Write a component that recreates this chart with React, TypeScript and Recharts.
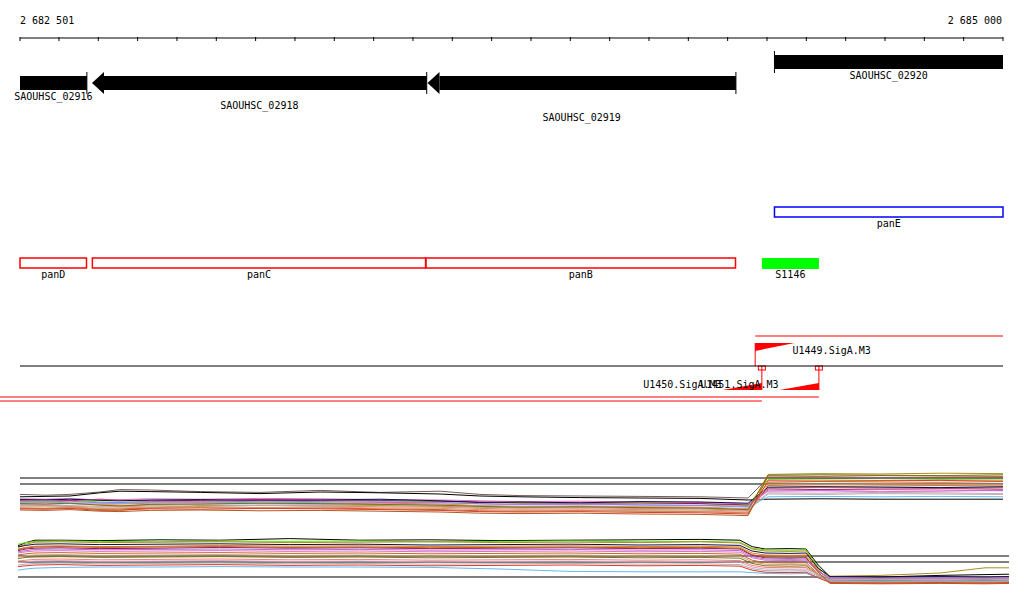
import React from 'react';
import { ComposedChart, XAxis, YAxis, Line, ReferenceArea, ReferenceLine } from 'recharts';

// genomic window shown
const VIEW_START = 2682501;
const VIEW_END = 2685000;

const RULER_TICKS = [
  2682501, 2682600, 2682700, 2682800, 2682900, 2683000, 2683100, 2683200, 2683300,
  2683400, 2683500, 2683600, 2683700, 2683800, 2683900, 2684000, 2684100, 2684200,
  2684300, 2684400, 2684500, 2684600, 2684700, 2684800, 2684900, 2685000,
];

// annotated genes
const GENE_NAMES = ['SAOUHSC_02916', 'SAOUHSC_02918', 'SAOUHSC_02919', 'SAOUHSC_02920'];
const GENE_START = [2682380, 2682684, 2683537, 2684419];
const GENE_END = [2682671, 2683535, 2684321, 2685290];
const GENE_STRAND = [-1, -1, -1, 1];

// operon members / transcribed segments
const FEATURE_NAMES = ['panD', 'panC', 'panB', 'S1146', 'panE'];
const FEATURE_START = [2682380, 2682685, 2683533, 2684387, 2684419];
const FEATURE_END = [2682670, 2683532, 2684320, 2684532, 2685290];

// promoters
const PROMOTER_NAMES = ['U1449.SigA.M3', 'U1450.SigA.M3', 'U1451.SigA.M3'];
const PROMOTER_TSS = [2684370, 2684387, 2684532];
const PROMOTER_STRAND = [1, -1, -1];

// expression profiles, top panel
const P1_POS = [
  2682501, 2682565, 2682628, 2682704, 2682755, 2682832, 2682959, 2683111, 2683264, 2683416, 2683569,
  2683670, 2683772, 2683925, 2684077, 2684230, 2684352, 2684403, 2684535, 2684687, 2684840, 2685000,
];
const P1_TAUPE = [6.4, 6.2, 6.4, 7.0, 7.6, 7.5, 7.1, 6.9, 7.4, 6.9, 7.2, 6.4, 6.1, 6.0, 5.9, 5.8, 5.5, 10.6, 10.4, 10.5, 10.6, 10.5];
const P1_BLACK = [5.8, 5.9, 6.0, 6.8, 7.2, 7.1, 6.9, 6.6, 7.0, 6.8, 6.5, 6.0, 5.8, 5.6, 5.5, 5.4, 5.0, 5.2, 5.3, 5.2, 5.2, 5.2];
const P1_LIME = [4.8, 4.7, 4.9, 4.5, 4.4, 4.6, 4.7, 4.8, 4.9, 4.7, 4.6, 4.4, 4.2, 4.3, 4.2, 4.1, 3.6, 10.1, 10.0, 9.9, 10.1, 10.0];
const P1_OLIVE = [3.8, 3.7, 3.4, 2.6, 2.4, 3.0, 3.6, 3.7, 3.5, 3.6, 3.4, 3.2, 3.0, 3.1, 2.9, 2.8, 2.4, 11.4, 11.6, 11.5, 11.7, 11.6];
const P1_ORANGE = [4.2, 4.3, 4.1, 3.9, 4.0, 4.2, 4.3, 4.1, 4.0, 4.2, 4.0, 3.6, 3.4, 3.5, 3.3, 3.2, 2.8, 9.4, 9.6, 9.5, 9.4, 9.6];
const P1_RUST = [3.0, 2.9, 3.1, 2.7, 2.8, 3.0, 3.1, 2.9, 3.0, 2.8, 2.6, 2.3, 2.2, 2.4, 2.2, 2.1, 1.8, 8.6, 8.4, 8.5, 8.6, 8.5];
const P1_MAGENTA = [5.0, 5.1, 4.9, 5.2, 5.0, 4.8, 4.9, 5.1, 5.0, 4.9, 4.7, 4.5, 4.3, 4.2, 4.3, 4.1, 3.8, 7.8, 7.6, 7.7, 7.9, 7.7];
const P1_PINK = [5.3, 5.2, 5.4, 5.0, 5.1, 5.3, 5.2, 5.4, 5.3, 5.1, 5.0, 4.8, 4.6, 4.7, 4.5, 4.4, 4.0, 7.2, 7.3, 7.1, 7.2, 7.4];
const P1_MAUVE = [4.0, 3.9, 4.1, 3.8, 3.6, 3.9, 4.0, 4.1, 3.9, 4.0, 3.8, 3.5, 3.3, 3.4, 3.2, 3.1, 2.7, 6.8, 6.7, 6.9, 6.8, 6.6];
const P1_SALMON = [3.5, 3.6, 3.4, 3.2, 3.3, 3.5, 3.4, 3.6, 3.5, 3.3, 3.2, 2.9, 2.7, 2.8, 2.6, 2.5, 2.2, 8.0, 8.1, 7.9, 8.0, 8.1];
const P1_SKY = [4.4, 4.5, 4.3, 4.2, 4.1, 4.4, 4.5, 4.3, 4.4, 4.6, 4.4, 4.0, 3.8, 3.9, 3.7, 3.6, 3.2, 5.8, 5.9, 5.8, 5.9, 5.8];
const P1_NAVY = [5.1, 5.0, 5.2, 4.9, 4.8, 5.0, 5.1, 4.9, 5.0, 5.2, 4.8, 4.4, 4.5, 4.3, 4.6, 4.5, 4.2, 8.2, 8.3, 8.2, 8.1, 8.3];
const P1_GREY = [3.7, 3.8, 3.6, 3.4, 3.5, 3.7, 3.8, 3.6, 3.7, 3.9, 3.6, 3.3, 3.1, 3.2, 3.0, 2.9, 2.5, 6.5, 6.4, 6.6, 6.5, 6.4];
const P1_TAN = [3.2, 3.3, 3.1, 2.9, 3.0, 3.2, 3.3, 3.1, 3.2, 3.0, 2.9, 2.6, 2.4, 2.5, 2.3, 2.2, 1.9, 8.9, 8.8, 9.0, 8.9, 8.8];
const P1_VIOLET = [4.6, 4.5, 4.7, 4.3, 4.4, 4.6, 4.5, 4.7, 4.6, 4.4, 4.3, 4.1, 3.9, 4.0, 3.8, 3.7, 3.4, 7.5, 7.4, 7.6, 7.5, 7.3];
const P1_RED = [2.8, 2.7, 2.9, 2.4, 2.5, 2.8, 2.7, 2.9, 2.8, 2.6, 2.4, 2.1, 2.0, 2.1, 1.9, 1.8, 1.5, 9.8, 9.7, 9.8, 9.9, 9.7];
const P1_BROWN = [2.5, 2.4, 2.6, 2.2, 2.1, 2.4, 2.5, 2.3, 2.4, 2.2, 2.0, 1.7, 1.6, 1.7, 1.5, 1.4, 1.1, 11.0, 10.9, 11.1, 11.0, 10.9];
const P1_DARKOLIVE = [4.1, 4.0, 4.2, 3.7, 3.5, 3.9, 4.0, 4.2, 4.1, 3.9, 3.7, 3.4, 3.2, 3.3, 3.1, 3.0, 2.6, 11.2, 11.3, 11.2, 11.1, 11.3];
const P1_THRESHOLDS = [10.5, 9.0];

// expression profiles, bottom panel
const P2_POS = [
  2682496, 2682516, 2682539, 2682603, 2682704, 2682857, 2683009, 2683187, 2683365, 2683543, 2683721, 2683899,
  2684077, 2684230, 2684331, 2684362, 2684395, 2684458, 2684499, 2684530, 2684560, 2684687, 2684840, 2684954, 2685015,
];
const P2_BLACK = [10.8, 11.6, 12.2, 12.2, 12.1, 12.3, 12.2, 12.6, 12.2, 12.3, 12.1, 12.2, 12.3, 12.4, 12.2, 10.6, 10.0, 10.1, 10.0, 6.0, 3.1, 3.0, 3.4, 3.6, 3.7];
const P2_LIME = [11.2, 11.6, 11.9, 12.0, 11.9, 11.8, 12.0, 11.9, 12.0, 11.8, 11.9, 12.0, 11.8, 11.9, 11.7, 10.2, 9.8, 9.7, 9.8, 5.5, 2.6, 2.5, 2.4, 2.5, 2.6];
const P2_OLIVE = [10.5, 11.2, 11.7, 11.8, 11.6, 11.7, 11.8, 11.6, 11.7, 11.8, 11.6, 11.7, 11.6, 11.8, 11.5, 10.0, 9.5, 9.4, 9.5, 5.0, 3.2, 3.4, 4.0, 5.3, 5.3];
const P2_ORANGE = [10.0, 10.4, 10.7, 10.8, 10.6, 10.7, 10.9, 10.7, 10.8, 10.6, 10.7, 10.8, 10.6, 10.7, 10.5, 9.0, 8.5, 8.4, 8.5, 4.8, 2.2, 2.1, 2.0, 2.1, 2.2];
const P2_MAGENTA = [9.6, 10.0, 10.2, 10.3, 10.1, 10.2, 10.4, 10.2, 10.3, 10.1, 10.2, 10.3, 10.1, 10.2, 10.0, 8.4, 7.8, 7.7, 7.8, 4.5, 2.5, 2.6, 2.5, 2.4, 2.5];
const P2_PINK = [9.0, 9.3, 9.5, 9.6, 9.4, 9.5, 9.6, 9.4, 9.5, 9.3, 9.4, 9.5, 9.3, 9.4, 9.2, 7.8, 7.2, 7.1, 7.2, 4.3, 2.7, 2.6, 2.7, 2.6, 2.7];
const P2_RUST = [8.5, 8.8, 9.0, 9.1, 8.9, 9.0, 9.1, 8.9, 9.0, 8.8, 8.9, 9.0, 8.8, 8.9, 8.7, 7.2, 6.6, 6.5, 6.6, 3.8, 1.8, 1.7, 1.8, 1.7, 1.8];
const P2_DARKOLIVE = [7.6, 7.9, 8.0, 8.1, 7.9, 8.0, 8.1, 7.9, 8.0, 7.8, 7.9, 8.0, 7.8, 7.9, 7.7, 6.4, 5.8, 5.7, 5.8, 3.6, 2.3, 2.2, 2.3, 2.2, 2.3];
const P2_SALMON = [7.0, 7.2, 7.4, 7.5, 7.3, 7.4, 7.5, 7.3, 7.4, 7.2, 7.3, 7.4, 7.2, 7.3, 7.1, 5.9, 5.4, 5.3, 5.4, 3.4, 2.0, 1.9, 2.0, 1.9, 2.0];
const P2_MAUVE = [6.6, 6.8, 7.0, 7.1, 6.9, 7.0, 7.1, 6.9, 7.0, 6.8, 6.9, 7.0, 6.8, 6.9, 6.7, 5.5, 5.0, 4.9, 5.0, 3.6, 2.8, 2.7, 2.8, 2.7, 2.8];
const P2_NAVY = [10.5, 10.9, 11.2, 11.3, 11.1, 11.2, 11.3, 11.1, 11.2, 11.0, 11.1, 11.2, 11.0, 11.1, 10.9, 9.5, 9.0, 8.9, 9.0, 5.2, 3.1, 3.0, 3.1, 3.0, 3.1];
const P2_GREY = [6.0, 6.2, 6.4, 6.5, 6.3, 6.4, 6.5, 6.3, 6.4, 6.2, 6.3, 6.4, 6.2, 6.3, 6.1, 5.1, 4.6, 4.5, 4.6, 3.2, 2.4, 2.3, 2.4, 2.3, 2.4];
const P2_SKY = [4.7, 5.0, 5.2, 5.4, 5.5, 5.5, 5.6, 5.5, 5.5, 5.4, 5.0, 4.4, 4.3, 4.3, 4.3, 4.1, 3.9, 3.8, 3.9, 2.9, 2.0, 1.9, 2.0, 1.9, 2.0];
const P2_TAN = [8.0, 8.3, 8.5, 8.6, 8.4, 8.5, 8.6, 8.4, 8.5, 8.3, 8.4, 8.5, 8.3, 8.4, 8.2, 6.8, 6.2, 6.1, 6.2, 3.6, 1.5, 1.4, 1.5, 1.4, 1.5];
const P2_VIOLET = [9.3, 9.6, 9.9, 10.0, 9.8, 9.9, 10.0, 9.8, 9.9, 9.7, 9.8, 9.9, 9.7, 9.8, 9.6, 8.1, 7.5, 7.4, 7.5, 4.4, 2.8, 2.7, 2.8, 2.7, 2.8];
const P2_RED = [5.6, 5.8, 6.0, 6.1, 5.9, 6.0, 6.1, 5.9, 6.0, 5.8, 5.9, 6.0, 5.8, 5.9, 5.7, 4.7, 4.2, 4.1, 4.2, 2.8, 1.6, 1.5, 1.6, 1.5, 1.6];
const P2_BROWN = [9.8, 10.2, 10.5, 10.6, 10.4, 10.5, 10.6, 10.4, 10.5, 10.3, 10.4, 10.5, 10.3, 10.4, 10.2, 8.6, 8.0, 7.9, 8.0, 4.2, 1.4, 1.3, 1.4, 1.3, 1.4];
const P2_THRESHOLDS = [8.25, 6.75, 3.0];

// ---- layout / style ----
const FONT = '"DejaVu Sans Mono", monospace';
const PLOT_LEFT = 20;
const PLOT_RIGHT = 1003;
const TOP_H = 410;
const PROMOTER_AXIS_Y = 366;
const PROMOTER_ARROW_BP = 100;

const GENE_ROW: Record<string, [number, number]> = {
  'SAOUHSC_02916': [72, 94],
  'SAOUHSC_02918': [72, 94],
  'SAOUHSC_02919': [72, 94],
  'SAOUHSC_02920': [51, 73],
};
const GENE_LABEL_Y: Record<string, number> = {
  'SAOUHSC_02916': 100,
  'SAOUHSC_02918': 109,
  'SAOUHSC_02919': 121,
  'SAOUHSC_02920': 79,
};
const FEATURE_ROW: Record<string, [number, number]> = {
  panD: [258, 268], panC: [258, 268], panB: [258, 268], S1146: [258, 269], panE: [207, 217],
};
const FEATURE_STYLE: Record<string, { fill: string; stroke: string }> = {
  panD: { fill: 'none', stroke: '#ff0000' },
  panC: { fill: 'none', stroke: '#ff0000' },
  panB: { fill: 'none', stroke: '#ff0000' },
  S1146: { fill: '#00ff00', stroke: 'none' },
  panE: { fill: 'none', stroke: '#0000ff' },
};
const PROMOTER_ROW: Record<string, { top: number; line: number }> = {
  'U1449.SigA.M3': { top: 343, line: 336 },
  'U1450.SigA.M3': { top: 383, line: 401 },
  'U1451.SigA.M3': { top: 383, line: 397 },
};

const P1_SERIES = [
  { key: 'taupe', values: P1_TAUPE, color: '#7a5a5a' },
  { key: 'black', values: P1_BLACK, color: '#000000' },
  { key: 'lime', values: P1_LIME, color: '#66dd00' },
  { key: 'olive', values: P1_OLIVE, color: '#a89020' },
  { key: 'orange', values: P1_ORANGE, color: '#e8781e' },
  { key: 'rust', values: P1_RUST, color: '#c8642a' },
  { key: 'magenta', values: P1_MAGENTA, color: '#a0105a' },
  { key: 'pink', values: P1_PINK, color: '#e070c0' },
  { key: 'mauve', values: P1_MAUVE, color: '#d8a0c0' },
  { key: 'salmon', values: P1_SALMON, color: '#f08078' },
  { key: 'sky', values: P1_SKY, color: '#66b8f0' },
  { key: 'navy', values: P1_NAVY, color: '#101048' },
  { key: 'grey', values: P1_GREY, color: '#b0b0b0' },
  { key: 'tan', values: P1_TAN, color: '#c8a070' },
  { key: 'violet', values: P1_VIOLET, color: '#b070d8' },
  { key: 'red', values: P1_RED, color: '#e03828' },
  { key: 'brown', values: P1_BROWN, color: '#b05a20' },
  { key: 'darkolive', values: P1_DARKOLIVE, color: '#807010' },
];
const P2_SERIES = [
  { key: 'black', values: P2_BLACK, color: '#000000' },
  { key: 'lime', values: P2_LIME, color: '#66dd00' },
  { key: 'olive', values: P2_OLIVE, color: '#a89020' },
  { key: 'orange', values: P2_ORANGE, color: '#e8781e' },
  { key: 'magenta', values: P2_MAGENTA, color: '#a0105a' },
  { key: 'pink', values: P2_PINK, color: '#e070c0' },
  { key: 'rust', values: P2_RUST, color: '#c8642a' },
  { key: 'darkolive', values: P2_DARKOLIVE, color: '#807010' },
  { key: 'salmon', values: P2_SALMON, color: '#f08078' },
  { key: 'mauve', values: P2_MAUVE, color: '#d8a0c0' },
  { key: 'navy', values: P2_NAVY, color: '#101048' },
  { key: 'grey', values: P2_GREY, color: '#b0b0b0' },
  { key: 'sky', values: P2_SKY, color: '#66b8f0' },
  { key: 'tan', values: P2_TAN, color: '#c8a070' },
  { key: 'violet', values: P2_VIOLET, color: '#b070d8' },
  { key: 'red', values: P2_RED, color: '#e03828' },
  { key: 'brown', values: P2_BROWN, color: '#b05a20' },
];

const toRows = (pos: number[], series: { key: string; values: number[] }[]) =>
  pos.map((p, i) => {
    const row: Record<string, number> = { pos: p };
    series.forEach((s) => { row[s.key] = s.values[i]; });
    return row;
  });

const p1Data = toRows(P1_POS, P1_SERIES);
const p2Data = toRows(P2_POS, P2_SERIES);

const clampPos = (v: number) => Math.min(Math.max(v, VIEW_START), VIEW_END);
const fmtPos = (v: number) => String(v).replace(/\B(?=(\d{3})+(?!\d))/g, ' ');

const RulerTick = (props: any) => {
  const { x, y, payload } = props;
  const first = payload.value === RULER_TICKS[0];
  const last = payload.value === RULER_TICKS[RULER_TICKS.length - 1];
  return (
    <g>
      <line x1={x} x2={x} y1={y - 1} y2={y + 3} stroke="#000" />
      {(first || last) && (
        <text x={first ? x : x - 1} y={y - 14} textAnchor={first ? 'start' : 'end'} fontFamily={FONT} fontSize={10} fill="#000">
          {fmtPos(payload.value)}
        </text>
      )}
    </g>
  );
};

const GeneGlyph = (props: any) => {
  const { x, y, width, height, name, strand, startClipped, endClipped } = props;
  const head = 12;
  const bodyTop = y + 4;
  const bodyH = height - 8;
  const mid = y + height / 2;
  let bodyX = x;
  let bodyW = width;
  let arrow = null;
  let mark = null;
  if (strand < 0) {
    if (!startClipped) {
      bodyX = x + head;
      bodyW = width - head;
      arrow = <polygon points={`${x},${mid} ${x + head},${y} ${x + head},${y + height}`} fill="#000" />;
    }
    if (!endClipped) mark = <line x1={x + width} x2={x + width} y1={y} y2={y + height} stroke="#000" />;
  } else {
    if (!endClipped) {
      bodyW = width - head;
      arrow = <polygon points={`${x + width},${mid} ${x + width - head},${y} ${x + width - head},${y + height}`} fill="#000" />;
    }
    if (!startClipped) mark = <line x1={x} x2={x} y1={y} y2={y + height} stroke="#000" />;
  }
  return (
    <g>
      <rect x={bodyX} y={bodyTop} width={bodyW} height={bodyH} fill="#000" />
      {arrow}
      {mark}
      <text x={x + width / 2} y={GENE_LABEL_Y[name]} textAnchor="middle" fontFamily={FONT} fontSize={10} fill="#000">
        {name}
      </text>
    </g>
  );
};

const FeatureGlyph = (props: any) => {
  const { x, y, width, height, name } = props;
  const st = FEATURE_STYLE[name];
  return (
    <g>
      <rect x={x} y={y} width={width} height={height} fill={st.fill} stroke={st.stroke} strokeWidth={1.5} />
      <text x={x + width / 2} y={y + 20} textAnchor="middle" fontFamily={FONT} fontSize={10} fill="#000">
        {name}
      </text>
    </g>
  );
};

const PromoterGlyph = (props: any) => {
  const { x, y, width, height, name, strand } = props;
  const row = PROMOTER_ROW[name];
  const red = '#ff0000';
  if (strand > 0) {
    return (
      <g>
        <line x1={x} x2={PLOT_RIGHT} y1={row.line} y2={row.line} stroke={red} />
        <polygon points={`${x},${y} ${x + width},${y} ${x},${y + height}`} fill={red} />
        <line x1={x} x2={x} y1={y} y2={PROMOTER_AXIS_Y} stroke={red} />
        <text x={x + width - 2} y={y + 11} fontFamily={FONT} fontSize={10} fill="#000">{name}</text>
      </g>
    );
  }
  const tx = x + width;
  return (
    <g>
      <line x1={0} x2={tx} y1={row.line} y2={row.line} stroke={red} />
      <polygon points={`${x},${y + height} ${tx},${y + height} ${tx},${y}`} fill={red} />
      <line x1={tx} x2={tx} y1={PROMOTER_AXIS_Y} y2={y + height} stroke={red} />
      <rect x={tx - 3.5} y={PROMOTER_AXIS_Y} width={7} height={4} fill="none" stroke={red} />
      <text x={x - 1} y={y + height - 2} textAnchor="end" fontFamily={FONT} fontSize={10} fill="#000">{name}</text>
    </g>
  );
};

const AnnotationChart = () => (
  <ComposedChart
    width={1024}
    height={TOP_H}
    data={RULER_TICKS.map((pos) => ({ pos }))}
    margin={{ top: 0, right: 1024 - PLOT_RIGHT, bottom: 0, left: PLOT_LEFT }}
  >
    <XAxis
      type="number"
      dataKey="pos"
      orientation="top"
      domain={[VIEW_START, VIEW_END]}
      allowDataOverflow
      ticks={RULER_TICKS}
      interval={0}
      height={38}
      tickSize={0}
      tickMargin={0}
      tickLine={false}
      axisLine={{ stroke: '#000' }}
      tick={(p: any) => <RulerTick {...p} />}
    />
    <YAxis type="number" hide reversed domain={[38, TOP_H]} allowDataOverflow />
    {GENE_NAMES.map((name, i) => (
      <ReferenceArea
        key={name}
        x1={clampPos(GENE_START[i])}
        x2={clampPos(GENE_END[i])}
        y1={GENE_ROW[name][0]}
        y2={GENE_ROW[name][1]}
        ifOverflow="visible"
        shape={(p: any) => (
          <GeneGlyph
            {...p}
            name={name}
            strand={GENE_STRAND[i]}
            startClipped={GENE_START[i] < VIEW_START}
            endClipped={GENE_END[i] > VIEW_END}
          />
        )}
      />
    ))}
    {FEATURE_NAMES.map((name, i) => (
      <ReferenceArea
        key={name}
        x1={clampPos(FEATURE_START[i])}
        x2={clampPos(FEATURE_END[i])}
        y1={FEATURE_ROW[name][0]}
        y2={FEATURE_ROW[name][1]}
        ifOverflow="visible"
        shape={(p: any) => <FeatureGlyph {...p} name={name} />}
      />
    ))}
    <ReferenceLine y={PROMOTER_AXIS_Y} stroke="#000" />
    {PROMOTER_NAMES.map((name, i) => {
      const tss = PROMOTER_TSS[i];
      const other = tss + PROMOTER_STRAND[i] * PROMOTER_ARROW_BP;
      const top = PROMOTER_ROW[name].top;
      return (
        <ReferenceArea
          key={name}
          x1={Math.min(tss, other)}
          x2={Math.max(tss, other)}
          y1={top}
          y2={top + (PROMOTER_STRAND[i] > 0 ? 8 : 7)}
          ifOverflow="visible"
          shape={(p: any) => <PromoterGlyph {...p} name={name} strand={PROMOTER_STRAND[i]} />}
        />
      );
    })}
  </ComposedChart>
);

const ExpressionChart = ({
  data, series, thresholds, height, yMax, domain, left, right,
}: {
  data: Record<string, number>[];
  series: { key: string; color: string }[];
  thresholds: number[];
  height: number;
  yMax: number;
  domain: [number, number];
  left: number;
  right: number;
}) => (
  <ComposedChart width={1024} height={height} data={data} margin={{ top: 0, right, bottom: 0, left }}>
    <XAxis type="number" dataKey="pos" domain={domain} allowDataOverflow hide />
    <YAxis type="number" domain={[0, yMax]} allowDataOverflow hide />
    {thresholds.map((t) => (
      <ReferenceLine key={t} y={t} stroke="#000" strokeWidth={1.2} />
    ))}
    {series.map((s) => (
      <Line
        key={s.key}
        type="linear"
        dataKey={s.key}
        stroke={s.color}
        strokeWidth={1}
        dot={false}
        isAnimationActive={false}
      />
    ))}
  </ComposedChart>
);

export default function App() {
  return (
    <div style={{ position: 'absolute', left: 0, top: 0, width: 1024, height: 611, background: '#fff' }}>
      <div style={{ position: 'absolute', left: 0, top: 0 }}>
        <AnnotationChart />
      </div>
      <div style={{ position: 'absolute', left: 0, top: 460 }}>
        <ExpressionChart
          data={p1Data}
          series={P1_SERIES}
          thresholds={P1_THRESHOLDS}
          height={60}
          yMax={15}
          domain={[VIEW_START, VIEW_END]}
          left={20}
          right={21}
        />
      </div>
      <div style={{ position: 'absolute', left: 0, top: 525 }}>
        <ExpressionChart
          data={p2Data}
          series={P2_SERIES}
          thresholds={P2_THRESHOLDS}
          height={64}
          yMax={16}
          domain={[2682496, 2685015]}
          left={18}
          right={15}
        />
      </div>
    </div>
  );
}
